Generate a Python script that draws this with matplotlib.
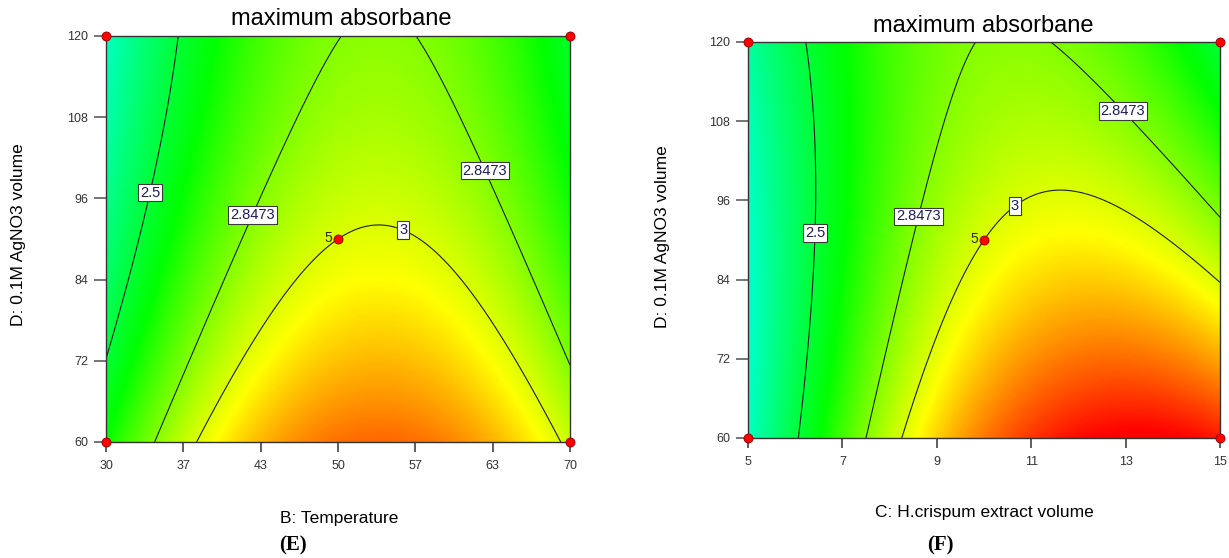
import numpy as np
import matplotlib
matplotlib.use('Agg')
import matplotlib.pyplot as plt
from matplotlib.colors import LinearSegmentedColormap

plt.rcParams['font.family'] = ['Liberation Sans', 'DejaVu Sans']

# Fitted quadratic models in coded units (-1..1):
# y = b0 + b1*x + b2*d + b12*x*d + b11*x^2 + b22*d^2
coef_temp = [3.000, 0.169, -0.2185, 0.0, -0.482, 0.0635]      # B: Temperature vs D
coef_extract = [3.000, 0.364, -0.209, -0.249, -0.465, 0.061]  # C: extract vs D

temp_range = [30, 70]
extract_range = [5, 15]
agno3_range = [60, 120]

temp_ticks = [30, 36.67, 43.33, 50, 56.67, 63.33, 70]
temp_ticklabels = ['30', '37', '43', '50', '57', '63', '70']
extract_ticks = [5, 7, 9, 11, 13, 15]
extract_ticklabels = ['5', '7', '9', '11', '13', '15']
agno3_ticks = [60, 72, 84, 96, 108, 120]

contour_levels = [2.5, 2.8473, 3.0]
level_text = {2.5: '2.5', 2.8473: '2.8473', 3.0: '3'}
center_runs = 5

# response values at the cyan / green / yellow / red stops of the colour scale
color_stops = [2.05, 2.62, 3.06, 3.46]
stop_colors = ['#00ffff', '#00ff00', '#ffff00', '#ff0000']

resp_lo, resp_hi = color_stops[0], color_stops[-1]
cmap = LinearSegmentedColormap.from_list(
    'de_map',
    [((v - resp_lo) / (resp_hi - resp_lo), c)
     for v, c in zip(color_stops, stop_colors)])


def predict(coef, xr, dr, n=300):
    x = np.linspace(xr[0], xr[1], n)
    d = np.linspace(dr[0], dr[1], n)
    X, D = np.meshgrid(x, d)
    xc = (X - np.mean(xr)) / ((xr[1] - xr[0]) / 2)
    dc = (D - np.mean(dr)) / ((dr[1] - dr[0]) / 2)
    b0, b1, b2, b12, b11, b22 = coef
    Z = b0 + b1 * xc + b2 * dc + b12 * xc * dc + b11 * xc ** 2 + b22 * dc ** 2
    return X, D, Z


def draw_panel(ax, coef, xr, xticks, xticklabels, label_spots):
    X, D, Z = predict(coef, xr, agno3_range)
    ax.imshow(Z, origin='lower', aspect='auto', cmap=cmap,
              vmin=resp_lo, vmax=resp_hi, interpolation='bilinear',
              extent=[xr[0], xr[1], agno3_range[0], agno3_range[1]])
    cs = ax.contour(X, D, Z, levels=contour_levels, colors='#1e1e2a',
                    linewidths=0.8)
    labels = ax.clabel(cs, inline=False, fmt=level_text, fontsize=10.5,
                       manual=label_spots)
    for t in labels:
        t.set_rotation(0)
        t.set_color('#1c1c5a')
        t.set_zorder(5)
        t.set_bbox(dict(boxstyle='square,pad=0.12', fc='white',
                        ec='#3a3a3a', lw=0.8))

    # design points: factorial corners and centre point
    xs = [xr[0], xr[1], xr[0], xr[1]]
    ds = [agno3_range[0], agno3_range[0], agno3_range[1], agno3_range[1]]
    ax.plot(xs, ds, 'o', color='#ff0000', mec='#8b0000', mew=0.6, ms=6.5,
            clip_on=False, zorder=6)
    xm, dm = np.mean(xr), np.mean(agno3_range)
    ax.plot([xm], [dm], 'o', color='#ff0000', mec='#8b0000', mew=0.6,
            ms=6.5, zorder=6)
    ax.annotate(str(center_runs), (xm, dm), xytext=(-4, 1),
                textcoords='offset points', ha='right', va='center',
                fontsize=10, color='#2a2a10', zorder=6)

    ax.set_xlim(xr)
    ax.set_ylim(agno3_range)
    ax.set_xticks(xticks)
    ax.set_xticklabels(xticklabels)
    ax.set_yticks(agno3_ticks)
    ax.tick_params(axis='y', length=9, width=1.3, color='#6a6a6a', pad=4,
                   labelsize=9, labelcolor='#333333')
    ax.tick_params(axis='x', length=7, width=1.1, color='#333333', pad=6,
                   labelsize=9, labelcolor='#333333')
    for s in ax.spines.values():
        s.set_color('#333333')
        s.set_linewidth(1.0)


fig = plt.figure(figsize=(12.29, 5.58), dpi=100)
W, H = 1229.0, 558.0

ax1 = fig.add_axes([106 / W, 1 - 442 / H, 464 / W, 406 / H])
draw_panel(ax1, coef_temp, temp_range, temp_ticks, temp_ticklabels,
           [(33.2, 97.1), (41.9, 94.1), (62.8, 100.2), (56.0, 92.9)])

ax2 = fig.add_axes([748 / W, 1 - 438 / H, 472 / W, 396 / H])
draw_panel(ax2, coef_extract, extract_range, extract_ticks,
           extract_ticklabels,
           [(6.38, 91.1), (8.5, 93.8), (12.88, 109.1), (10.55, 96.1)])

# titles, axis names and panel tags
fig.text(341 / W, 1 - 19 / H, 'maximum absorbane', ha='center', va='center',
         fontsize=17)
fig.text(983 / W, 1 - 26 / H, 'maximum absorbane', ha='center', va='center',
         fontsize=17)
fig.text(19 / W, 1 - 235 / H, 'D: 0.1M AgNO3 volume', rotation=90,
         ha='center', va='center', fontsize=12.5)
fig.text(663 / W, 1 - 237 / H, 'D: 0.1M AgNO3 volume', rotation=90,
         ha='center', va='center', fontsize=12.5)
fig.text(339 / W, 1 - 519 / H, 'B: Temperature', ha='center', va='center',
         fontsize=12.5)
fig.text(984 / W, 1 - 513 / H, 'C: H.crispum extract volume', ha='center',
         va='center', fontsize=12.5)
fig.text(293 / W, 1 - 545 / H, '(E)', ha='center', va='center', fontsize=15,
         fontweight='bold', family=['Liberation Serif', 'DejaVu Serif'])
fig.text(940 / W, 1 - 545 / H, '(F)', ha='center', va='center', fontsize=15,
         fontweight='bold', family=['Liberation Serif', 'DejaVu Serif'])

fig.savefig('out.png', dpi=100)
